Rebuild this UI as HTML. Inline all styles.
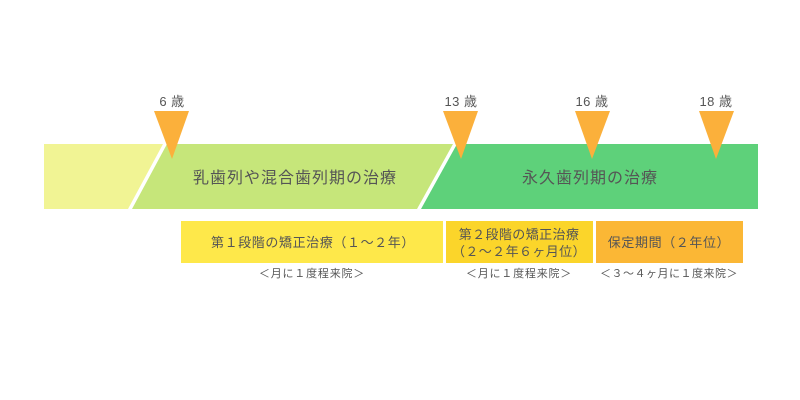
<!DOCTYPE html>
<html><head><meta charset="utf-8"><style>
html,body{margin:0;padding:0;background:#fff;width:800px;height:400px;overflow:hidden}
svg text{font-family:"Liberation Sans","Noto Sans CJK JP",sans-serif;fill:#555}
</style></head><body>
<svg width="800" height="400" viewBox="0 0 800 400" xmlns="http://www.w3.org/2000/svg">
<polygon points="44,144 163,144 128,209 44,209" fill="#f1f494"/>
<polygon points="167,144 453,144 417,209 132,209" fill="#c6e67a"/>
<polygon points="457,144 758,144 758,209 421,209" fill="#5ed17a"/>
<polygon points="154,111 189,111 172,159" fill="#fbb03b"/>
<polygon points="443,111 478,111 461,159" fill="#fbb03b"/>
<polygon points="575,111 610,111 592,159" fill="#fbb03b"/>
<polygon points="699,111 734,111 716,159" fill="#fbb03b"/>
<text x="172" y="106" font-size="13" text-anchor="middle" letter-spacing="0.5">6 歳</text>
<text x="461" y="106" font-size="13" text-anchor="middle" letter-spacing="0.5">13 歳</text>
<text x="592" y="106" font-size="13" text-anchor="middle" letter-spacing="0.5">16 歳</text>
<text x="716" y="106" font-size="13" text-anchor="middle" letter-spacing="0.5">18 歳</text>
<text x="295" y="183" font-size="16" text-anchor="middle" letter-spacing="1">乳歯列や混合歯列期の治療</text>
<text x="590" y="183" font-size="16" text-anchor="middle" letter-spacing="1">永久歯列期の治療</text>
<rect x="181" y="221" width="262" height="42" fill="#fee84a"/>
<rect x="446" y="221" width="147" height="42" fill="#fbd52a"/>
<rect x="596" y="221" width="147" height="42" fill="#fbb735"/>
<text x="313" y="247" font-size="13" text-anchor="middle" letter-spacing="0.6">第１段階の矯正治療（１～２年）</text>
<text x="519" y="239" font-size="13" text-anchor="middle" letter-spacing="0.4">第２段階の矯正治療</text>
<text x="519" y="256" font-size="13" text-anchor="middle" letter-spacing="0.4">（２～２年６ヶ月位）</text>
<text x="669" y="247" font-size="13" text-anchor="middle" letter-spacing="0.6">保定期間（２年位）</text>
<text x="312" y="277" font-size="11" text-anchor="middle" letter-spacing="0.8">＜月に１度程来院＞</text>
<text x="519" y="277" font-size="11" text-anchor="middle" letter-spacing="0.8">＜月に１度程来院＞</text>
<text x="669" y="277" font-size="11" text-anchor="middle" letter-spacing="0.5">＜３～４ヶ月に１度来院＞</text>
</svg>
</body></html>
